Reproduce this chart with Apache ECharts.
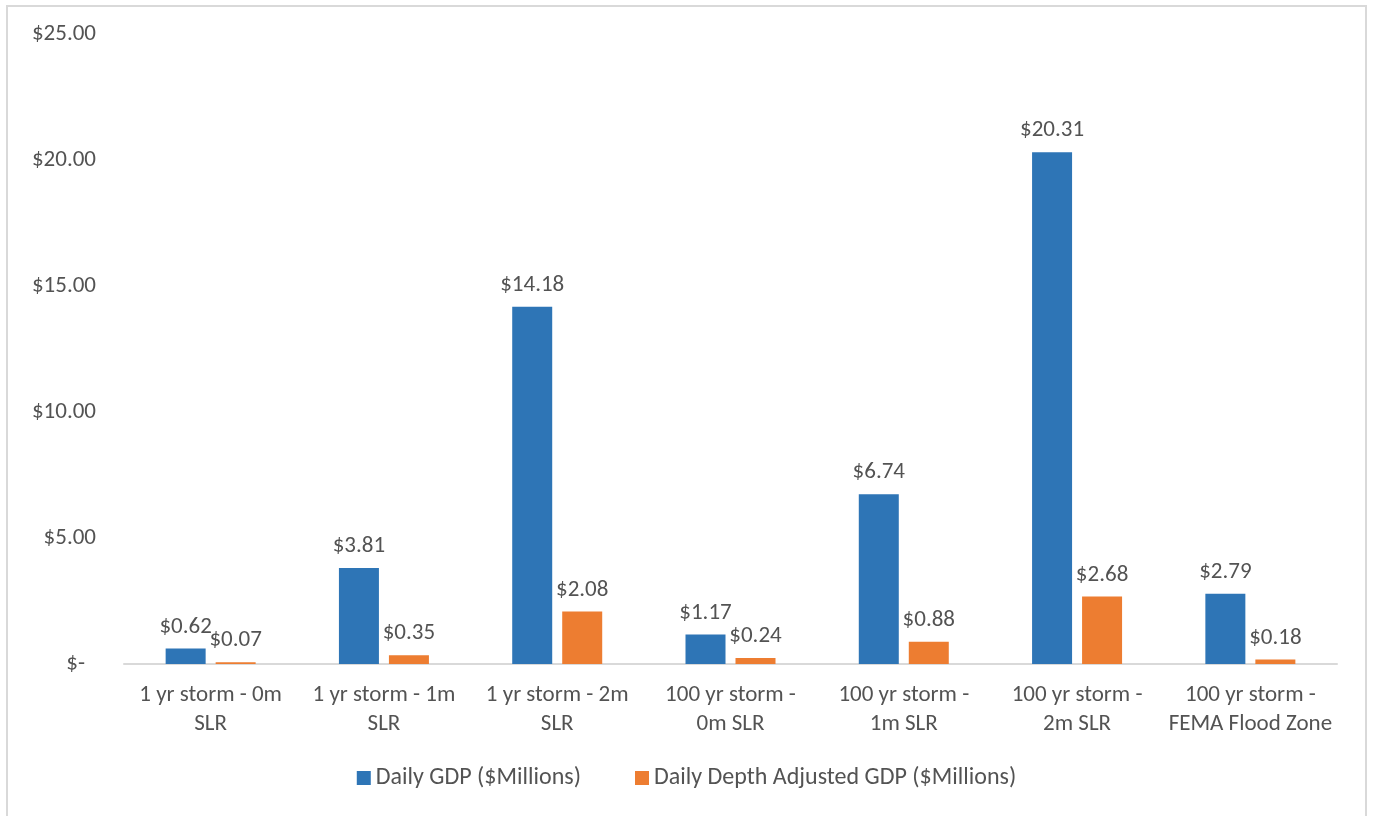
<!DOCTYPE html>
<html>
<head>
<meta charset="utf-8">
<script src="https://cdn.jsdelivr.net/npm/echarts@6/dist/echarts.min.js"></script>
<style>
  html, body { margin: 0; padding: 0; background: #fff; }
  #chart { width: 1373px; height: 816px; }
</style>
</head>
<body>
<div id="chart"></div>
<script>
var categories = [
  '1 yr storm - 0m\nSLR',
  '1 yr storm - 1m\nSLR',
  '1 yr storm - 2m\nSLR',
  '100 yr storm -\n0m SLR',
  '100 yr storm -\n1m SLR',
  '100 yr storm -\n2m SLR',
  '100 yr storm -\nFEMA Flood Zone'
];
var dailyGdp = [0.62, 3.81, 14.18, 1.17, 6.74, 20.31, 2.79];
var depthAdjustedGdp = [0.07, 0.35, 2.08, 0.24, 0.88, 2.68, 0.18];
var seriesNames = ['Daily GDP ($Millions)', 'Daily Depth Adjusted GDP ($Millions)'];

var textColor = '#535353';
var fontFamily = 'Carlito, Lato, "Open Sans", sans-serif';
var fontSize = 23;

function money(v) {
  return '$' + v.toFixed(2);
}

var chartDom = document.getElementById('chart');
var myChart = echarts.init(chartDom);
var option;

option = {
  animation: false,
  textStyle: { fontFamily: fontFamily, color: textColor },
  graphic: [{
    type: 'rect',
    shape: { x: 7, y: 6, width: 1359, height: 830 },
    style: { fill: 'none', stroke: '#d9d9d9', lineWidth: 2 },
    silent: true
  }],
  grid: { left: 124, right: 36, top: 34, bottom: 152 },
  legend: {
    bottom: 21,
    left: 'center',
    itemWidth: 14,
    itemHeight: 14,
    itemGap: 54,
    icon: 'rect',
    textStyle: { fontSize: 24, color: textColor, fontFamily: fontFamily },
    data: seriesNames
  },
  xAxis: {
    type: 'category',
    data: categories,
    axisLine: { lineStyle: { color: '#d9d9d9', width: 2 } },
    axisTick: { show: false },
    axisLabel: {
      color: textColor,
      fontSize: fontSize,
      lineHeight: 29,
      margin: 17,
      interval: 0,
      fontFamily: fontFamily
    }
  },
  yAxis: {
    type: 'value',
    min: 0,
    max: 25,
    interval: 5,
    splitLine: { show: false },
    axisLine: { show: false },
    axisTick: { show: false },
    axisLabel: {
      color: textColor,
      fontSize: fontSize,
      margin: 28,
      fontFamily: fontFamily,
      formatter: function (v) {
        return v === 0 ? '{z|$-}' : money(v);
      },
      rich: {
        z: { fontSize: fontSize, color: textColor, padding: [0, 11, 0, 0], fontFamily: fontFamily }
      }
    }
  },
  series: [
    {
      name: seriesNames[0],
      type: 'bar',
      data: dailyGdp,
      barWidth: 40,
      barGap: '25%',
      itemStyle: { color: '#2e75b6' },
      label: {
        show: true,
        position: 'top',
        distance: 10,
        fontSize: fontSize,
        color: textColor,
        fontFamily: fontFamily,
        formatter: function (p) { return money(p.value); }
      }
    },
    {
      name: seriesNames[1],
      type: 'bar',
      data: depthAdjustedGdp,
      barWidth: 40,
      itemStyle: { color: '#ed7d31' },
      label: {
        show: true,
        position: 'top',
        distance: 10,
        fontSize: fontSize,
        color: textColor,
        fontFamily: fontFamily,
        formatter: function (p) { return money(p.value); }
      }
    }
  ]
};

option && myChart.setOption(option);
</script>
</body>
</html>
